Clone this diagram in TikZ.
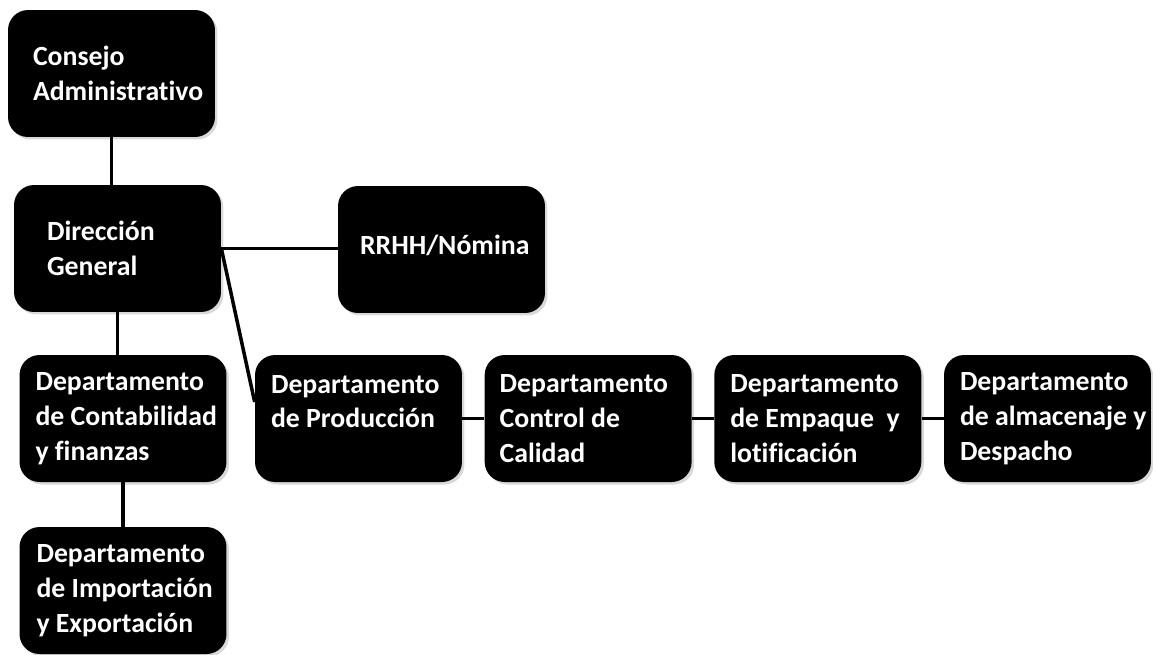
\documentclass[tikz,border=0pt]{standalone}
\usepackage{fontspec}
\setmainfont{Carlito}[Ligatures=NoCommon]
\usetikzlibrary{positioning,shadows}

\tikzset{
  caja/.style={fill=black, rounded corners=0.4cm, minimum width=4.14cm,
    minimum height=2.54cm, inner sep=0pt,
    drop shadow={shadow xshift=0.05cm, shadow yshift=-0.05cm, opacity=0.3}},
  rotulo/.style={anchor=west, text=white, align=left, inner sep=0pt,
    font=\fontsize{15.8}{19.8}\selectfont\bfseries},
  linea/.style={line width=2pt}
}

\begin{document}
\begin{tikzpicture}[x=0.02cm, y=-0.02cm]
   \useasboundingbox (0,0) rectangle (1153,654);

   % direccion
   \node[caja] (consejo) at (111.5,73.5) {};
   \node[caja] (direccion) at (117.5,248.5) {};
   \node[caja] (rrhh) at (441.5,249.5) {};

   % departamentos
   \node[caja] (contab) at (123,418.5) {};
   \node[caja] (produccion) at (358.5,418.5) {};
   \node[caja, right=0.44cm of produccion] (control) {};
   \node[caja, right=0.44cm of control] (empaque) {};
   \node[caja, right=0.44cm of empaque] (almacen) {};
   \node[caja] (import) at (123,590.5) {};

   \node[rotulo] (consejo-t) at ([xshift=0.5cm]consejo.west) {Consejo\\Administrativo};
   \node[rotulo] (direccion-t) at ([xshift=0.66cm]direccion.west) {Dirección\\General};
   \node[rotulo] (rrhh-t) at ([xshift=0.44cm,yshift=0.08cm]rrhh.west) {RRHH/Nómina};
   \node[rotulo] (contab-t) at ([xshift=0.32cm]contab.west) {Departamento\\de Contabilidad\\y finanzas};
   \node[rotulo] (produccion-t) at ([xshift=0.32cm,yshift=0.34cm]produccion.west) {Departamento\\de Producción};
   \node[rotulo] (control-t) at ([xshift=0.3cm]control.west) {Departamento\\Control de\\Calidad};
   \node[rotulo] (empaque-t) at ([xshift=0.32cm]empaque.west) {Departamento\\de Empaque\ \ y\\lotificación};
   \node[rotulo] (almacen-t) at ([xshift=0.32cm]almacen.west) {Departamento\\de almacenaje y\\Despacho};
   \node[rotulo] (import-t) at ([xshift=0.34cm]import.west) {Departamento\\de Importación\\y Exportación};

   % conectores
   \draw[linea] (consejo.south) -- (consejo.south |- direccion.north);
   \draw[linea] (direccion.east) -- (direccion.east -| rrhh.west);
   \draw[linea] (direccion.east) -- ([yshift=0.33cm]produccion.west);
   \draw[linea] (direccion.south) -- (direccion.south |- contab.north);
   \draw[linea] (contab.south) -- (contab.south |- import.north);
   \draw[linea] (produccion) -- (control);
   \draw[linea] (control) -- (empaque);
   \draw[linea] (empaque) -- (almacen);
 \end{tikzpicture}
\end{document}
